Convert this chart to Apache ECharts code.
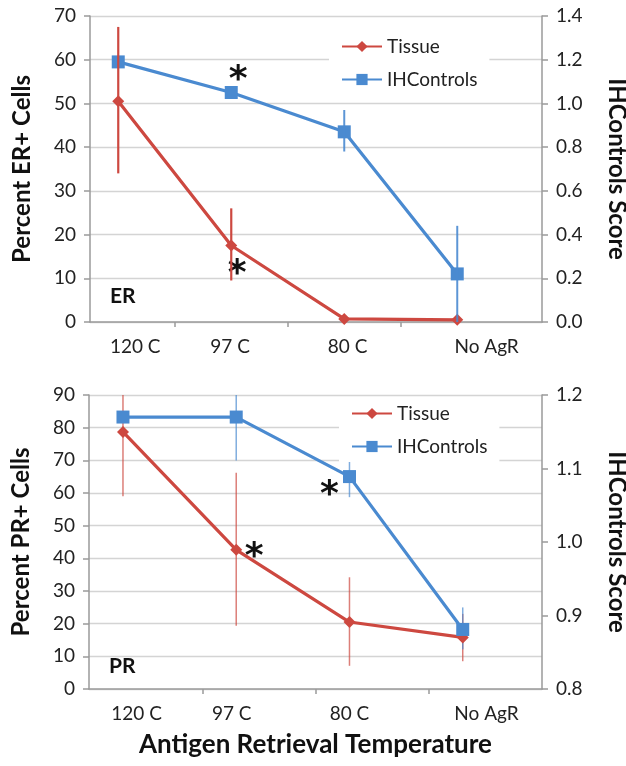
<!DOCTYPE html>
<html><head><meta charset="utf-8">
<script src="https://cdn.jsdelivr.net/npm/echarts@6/dist/echarts.min.js"></script>
<style>html,body{margin:0;padding:0;background:#fff}#c{width:626px;height:766px}</style>
</head><body><div id="c"></div>
<script>
// ---------- data ----------
const categories = ['120 C', '97 C', '80 C', 'No AgR'];
const seriesNames = ['Tissue', 'IHControls'];

// ER panel
const erTissue      = [50.5, 17.5, 0.7, 0.5];
const erTissueLow   = [34, 9.5, null, null];
const erTissueHigh  = [67.5, 26, null, null];
const erControls     = [1.19, 1.05, 0.87, 0.22];
const erControlsLow  = [null, null, 0.78, 0.0];
const erControlsHigh = [null, null, 0.97, 0.44];
const erTissueSig   = [false, true, false, false];
const erControlsSig = [false, true, false, false];

// PR panel
const prTissue      = [78.7, 42.6, 20.5, 15.8];
const prTissueLow   = [59, 19.4, 7.1, 8.5];
const prTissueHigh  = [90, 66.2, 34.2, 23];
const prControls     = [1.17, 1.17, 1.089, 0.881];
const prControlsLow  = [null, 1.111, 1.061, 0.854];
const prControlsHigh = [null, 1.2, 1.111, 0.911];
const prTissueSig   = [false, true, false, false];
const prControlsSig = [false, false, true, false];

// axis ranges
const erLeftAxis  = {min: 0, max: 70, interval: 10};
const erRightAxis = {min: 0, max: 1.4, interval: 0.2};
const prLeftAxis  = {min: 0, max: 90, interval: 10};
const prRightAxis = {min: 0.8, max: 1.2, interval: 0.1};

const titles = {
  erLeft: 'Percent ER+ Cells', prLeft: 'Percent PR+ Cells',
  right: 'IHControls Score', x: 'Antigen Retrieval Temperature',
  er: 'ER', pr: 'PR'
};

// ---------- styles ----------
const RED = '#CD4840';
const BLUE = '#4A8AD0';
const FONT = 'Lato';
const AXIS_GRAY = '#9a9a9a';
const GRID_GRAY = '#d4d4d4';

const chart = echarts.init(document.getElementById('c'), null, {renderer: 'canvas'});

function pts(vals, sig, labelOpt) {
  return vals.map((v, i) => sig[i]
    ? {value: [i, v], label: Object.assign({
        show: true, formatter: '*', position: 'inside',
        fontSize: 36, fontWeight: 'bold', color: '#111', fontFamily: 'DejaVu Sans'
      }, labelOpt)}
    : [i, v]);
}
function errData(low, high) {
  const out = [];
  low.forEach((l, i) => { if (l != null && high[i] != null) out.push([i, l, high[i]]); });
  return out;
}
function errSeries(low, high, xi, yi, color, width, opacity, z) {
  return {
    type: 'custom', xAxisIndex: xi, yAxisIndex: yi, z: z, silent: true,
    data: errData(low, high),
    encode: {x: 0, y: [1, 2]},
    renderItem: function (params, api) {
      const x = api.value(0);
      const a = api.coord([x, api.value(1)]);
      const b = api.coord([x, api.value(2)]);
      return {type: 'line', shape: {x1: a[0], y1: a[1], x2: b[0], y2: b[1]},
        style: {stroke: color, lineWidth: width, opacity: opacity}};
    }
  };
}
function lineSeries(name, vals, sig, xi, yi, color, symbol, size, labelOpt) {
  return {
    name: name, type: 'line', xAxisIndex: xi, yAxisIndex: yi, z: 2,
    data: pts(vals, sig, labelOpt || {}),
    symbol: symbol, symbolSize: size, showSymbol: true,
    itemStyle: {color: color},
    lineStyle: {color: color, width: 3.2},
    emphasis: {disabled: true}
  };
}
const labelFmt = v => {
  const i = Math.round(v);
  return categories[i] !== undefined ? categories[i] : '';
};
function xAxis(gridIndex, min, max, tickVals, labelVals, withName) {
  return {
    type: 'value', gridIndex: gridIndex, min: min, max: max,
    splitLine: {show: false},
    axisLine: {show: true, onZero: false, lineStyle: {color: AXIS_GRAY, width: 1.5}},
    axisTick: {show: true, length: 5, customValues: tickVals, lineStyle: {color: AXIS_GRAY, width: 1.5}},
    axisLabel: {customValues: labelVals, formatter: labelFmt, fontSize: 19, fontFamily: FONT, color: '#222', margin: 15},
    name: withName ? titles.x : '', nameLocation: 'middle', nameGap: 43,
    nameTextStyle: {fontSize: 26, fontWeight: 'bold', fontFamily: FONT, color: '#111'}
  };
}
function yAxis(gridIndex, pos, rng, name, split, dec) {
  return {
    type: 'value', gridIndex: gridIndex, position: pos,
    min: rng.min, max: rng.max, interval: rng.interval,
    splitLine: {show: split, lineStyle: {color: GRID_GRAY, width: 1.3}},
    axisLine: {show: true, onZero: false, lineStyle: {color: AXIS_GRAY, width: 1.5}},
    axisTick: {show: true, length: 6, lineStyle: {color: AXIS_GRAY, width: 1.5}},
    axisLabel: {fontSize: 19, fontFamily: FONT, color: '#222', margin: pos === 'left' ? 14 : 14,
      formatter: v => dec ? v.toFixed(dec) : String(v)},
    name: name, nameLocation: 'middle', nameGap: pos === 'left' ? 56 : 63,
    nameRotate: pos === 'left' ? 90 : -90,
    nameTextStyle: {fontSize: 24, fontWeight: 'bold', fontFamily: FONT, color: '#111'}
  };
}
function legend(left, top) {
  return {
    data: seriesNames, orient: 'vertical', left: left, top: top,
    backgroundColor: '#fff', padding: [6, 12, 6, 12], itemGap: 14,
    itemWidth: 40, itemHeight: 14, selectedMode: false,
    textStyle: {fontSize: 19, fontFamily: FONT, color: '#222'}
  };
}

const option = {
  backgroundColor: '#fff',
  animation: false,
  title: [
    {text: titles.er, left: 110, top: 286, padding: 0, textStyle: {fontSize: 21, fontWeight: 'bold', fontFamily: FONT, color: '#111'}},
    {text: titles.pr, left: 109, top: 656, padding: 0, textStyle: {fontSize: 21, fontWeight: 'bold', fontFamily: FONT, color: '#111'}}
  ],
  legend: [legend(329, 31), legend(339, 398)],
  grid: [
    {left: 90, right: 84, top: 16, height: 306, outerBoundsMode: 'none', containLabel: false},
    {left: 89, right: 84, top: 395, height: 294, outerBoundsMode: 'none', containLabel: false}
  ],
  xAxis: [
    xAxis(0, -0.25, 3.75, [0.5, 1.5, 2.5], [0.15, 0.99, 2.03, 3.26], false),
    xAxis(1, -0.3, 3.7, [0.7, 1.7, 2.7], [0.12, 0.96, 2.0, 3.21], true)
  ],
  yAxis: [
    yAxis(0, 'left', erLeftAxis, titles.erLeft, true, 0),
    yAxis(0, 'right', erRightAxis, titles.right, false, 1),
    yAxis(1, 'left', prLeftAxis, titles.prLeft, true, 0),
    yAxis(1, 'right', prRightAxis, titles.right, false, 1)
  ],
  series: [
    lineSeries('Tissue', erTissue, erTissueSig, 0, 0, RED, 'diamond', 12, {offset: [6, 29]}),
    lineSeries('IHControls', erControls, erControlsSig, 0, 1, BLUE, 'rect', 13, {offset: [7, -12]}),
    errSeries(erTissueLow, erTissueHigh, 0, 0, RED, 2.2, 1, 3),
    errSeries(erControlsLow, erControlsHigh, 0, 1, BLUE, 2, 0.9, 3),
    lineSeries('Tissue', prTissue, prTissueSig, 1, 2, RED, 'diamond', 12, {offset: [18, 8]}),
    lineSeries('IHControls', prControls, prControlsSig, 1, 3, BLUE, 'rect', 13, {offset: [-20, 19]}),
    errSeries(prTissueLow, prTissueHigh, 1, 2, RED, 1.5, 0.7, 1),
    errSeries(prControlsLow, prControlsHigh, 1, 3, BLUE, 1.5, 0.7, 1)
  ]
};
chart.setOption(option);
</script></body></html>
